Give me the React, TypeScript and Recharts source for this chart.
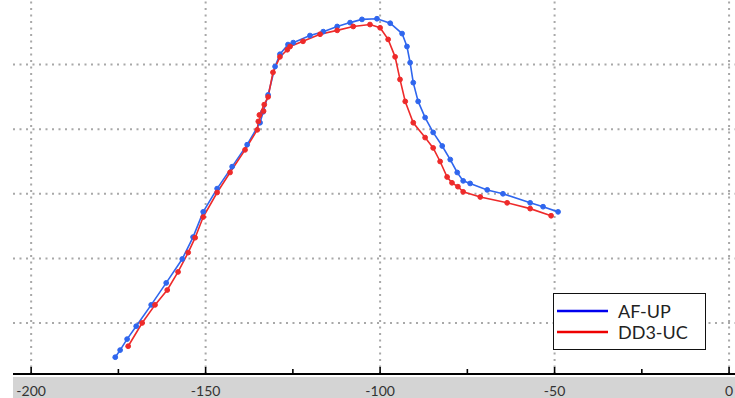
import { LineChart, Line, XAxis, YAxis, ReferenceLine } from 'recharts';

// x ticks (every 25, labels every 50)
const xTicks = [-200, -175, -150, -125, -100, -75, -50, -25, 0];
const xLabelled = [-200, -150, -100, -50, 0];
// dotted grid
const gridX = [-200, -150, -100, -50, 0];
const gridY = [1, 2, 3, 4, 5];

// [x, y] (y in grid units)
const afUp: [number, number][] = [
  [-175.9, 0.47], [-174.5, 0.58], [-172.5, 0.75], [-169.9, 0.95], [-165.6, 1.28],
  [-161.3, 1.62], [-156.7, 1.99], [-153.6, 2.33], [-150.7, 2.72], [-146.7, 3.08],
  [-142.4, 3.42], [-138.1, 3.76], [-134.4, 4.1], [-133.5, 4.27], [-132.1, 4.53],
  [-130.1, 4.97], [-128.7, 5.16], [-126.4, 5.31], [-124.9, 5.34], [-120.1, 5.45],
  [-116.3, 5.51], [-112.3, 5.59], [-108.6, 5.65], [-105.2, 5.7], [-100.9, 5.71],
  [-97.1, 5.64], [-93.7, 5.48], [-92.3, 5.28], [-91.4, 5.03], [-90.5, 4.72],
  [-89.1, 4.43], [-87.1, 4.18], [-84.8, 3.95], [-82.2, 3.74], [-79.9, 3.53],
  [-77.9, 3.33], [-76.2, 3.2], [-74.2, 3.16], [-69.3, 3.06], [-64.8, 3.0],
  [-57.0, 2.86], [-53.3, 2.8], [-49.0, 2.72],
];

const dd3Uc: [number, number][] = [
  [-172.2, 0.64], [-168.2, 1.0], [-164.5, 1.28], [-161.0, 1.51], [-157.9, 1.79],
  [-155.0, 2.09], [-153.0, 2.32], [-150.7, 2.64], [-146.7, 3.02], [-143.0, 3.33],
  [-138.7, 3.68], [-135.2, 3.99], [-134.9, 4.12], [-133.4, 4.28], [-134.6, 4.22],
  [-133.2, 4.38], [-132.1, 4.5], [-130.7, 4.88], [-128.7, 5.12], [-126.6, 5.23],
  [-125.8, 5.28], [-122.1, 5.36], [-117.2, 5.47], [-112.3, 5.53], [-107.7, 5.59],
  [-102.9, 5.62], [-100.0, 5.57], [-97.7, 5.39], [-95.7, 5.12], [-94.3, 4.77],
  [-92.8, 4.43], [-90.5, 4.1], [-87.1, 3.87], [-84.8, 3.71], [-82.8, 3.5],
  [-80.8, 3.26], [-79.4, 3.17], [-77.7, 3.11], [-76.2, 3.03], [-71.3, 2.95],
  [-63.6, 2.86], [-57.0, 2.77], [-51.0, 2.66],
];

const BLUE = '#2f66ee';
const RED = '#ee2a2a';
const GRID = '#a8a8a8';
const FONT = "Lato, 'Open Sans', sans-serif";

const toRows = (pts: [number, number][]) => pts.map(([x, y]) => ({ x, y }));

function Tick(props: any) {
  const { x, y, payload } = props;
  const major = xLabelled.includes(payload.value);
  return (
    <g>
      <line x1={x} x2={x} y1={y} y2={y - (major ? 7 : 5)} stroke="#000" strokeWidth={1.6} />
      {major && (
        <text x={x} y={y + 22} textAnchor="middle" fontSize={14} fill="#333" fontFamily={FONT}>
          {payload.value}
        </text>
      )}
    </g>
  );
}

export default function App() {
  return (
    <div style={{ position: 'fixed', left: 0, top: 0, width: 735, height: 398, background: '#fff', overflow: 'hidden' }}>
      <div style={{ position: 'absolute', left: 13, top: 377, width: 722, height: 21, background: '#d4d4d4' }} />
      <div style={{ position: 'absolute', left: 0, top: 0 }}>
        <LineChart width={735} height={398} margin={{ top: 0, right: 0, bottom: 0, left: 13 }}>
          <XAxis
            dataKey="x"
            type="number"
            domain={[-205.2, 1.7]}
            ticks={xTicks}
            interval={0}
            allowDataOverflow
            height={24}
            tickSize={0}
            tickMargin={0}
            tickLine={false}
            axisLine={{ stroke: '#000', strokeWidth: 2 }}
            tick={<Tick />}
          />
          <YAxis type="number" domain={[0.21, 6.0]} allowDataOverflow hide />
          {gridY.map((v) => (
            <ReferenceLine key={'h' + v} y={v} stroke={GRID} strokeWidth={2} strokeDasharray="2 4.5" />
          ))}
          {gridX.map((v) => (
            <ReferenceLine key={'v' + v} x={v} stroke={GRID} strokeWidth={2} strokeDasharray="2 4.5" />
          ))}
          <Line
            data={toRows(afUp)}
            dataKey="y"
            type="linear"
            stroke={BLUE}
            strokeWidth={1.6}
            dot={{ r: 2.4, fill: BLUE, stroke: BLUE, strokeWidth: 1 }}
            isAnimationActive={false}
          />
          <Line
            data={toRows(dd3Uc)}
            dataKey="y"
            type="linear"
            stroke={RED}
            strokeWidth={1.6}
            dot={{ r: 2.4, fill: RED, stroke: RED, strokeWidth: 1 }}
            isAnimationActive={false}
          />
        </LineChart>
      </div>
      <div
        style={{
          position: 'absolute', left: 553, top: 293, width: 151, height: 55,
          border: '1.5px solid #111', background: '#fff',
        }}
      >
        <svg width={151} height={55} style={{ position: 'absolute', left: 0, top: 0 }}>
          <line x1={3} x2={54} y1={17} y2={17} stroke="#0000ee" strokeWidth={2.5} />
          <line x1={3} x2={54} y1={38} y2={38} stroke="#ee0000" strokeWidth={2.5} />
          <text x={64} y={23.5} fontSize={18} fill="#222" fontFamily={FONT}>AF-UP</text>
          <text x={64} y={44.5} fontSize={18} fill="#222" fontFamily={FONT}>DD3-UC</text>
        </svg>
      </div>
    </div>
  );
}
